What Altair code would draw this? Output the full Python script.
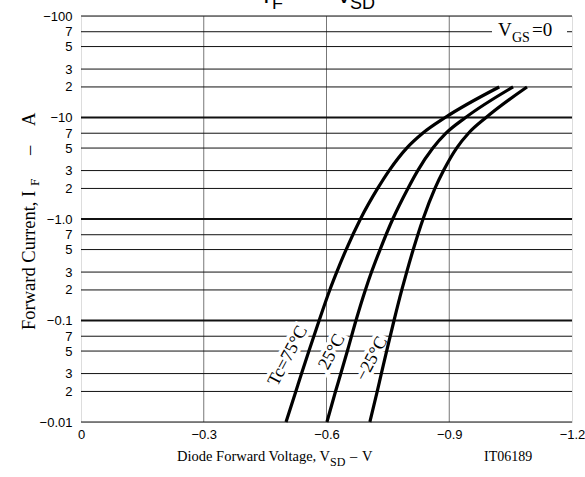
import altair as alt
import pandas as pd

# ---- data ----
current_A = [0.01, 0.02, 0.03, 0.05, 0.1, 0.2, 0.3, 0.5, 1, 2, 3, 5, 7, 10, 20]
v_75 = [0.501, 0.525, 0.539, 0.557, 0.582, 0.608, 0.625, 0.648, 0.683, 0.725,
        0.753, 0.796, 0.835, 0.890, 1.022]
v_25 = [0.601, 0.622, 0.635, 0.651, 0.672, 0.695, 0.710, 0.731, 0.762, 0.799,
        0.823, 0.860, 0.892, 0.940, 1.056]
v_m25 = [0.706, 0.724, 0.734, 0.747, 0.765, 0.784, 0.796, 0.812, 0.836, 0.865,
         0.886, 0.918, 0.947, 0.990, 1.090]

x_ticks = [0, -0.3, -0.6, -0.9, -1.2]
x_grid = [-0.3, -0.6, -0.9]
y_ticks = [0.01, 0.02, 0.03, 0.05, 0.07, 0.1, 0.2, 0.3, 0.5, 0.7, 1,
           2, 3, 5, 7, 10, 20, 30, 50, 70, 100]
y_labels = ["−0.01", "2", "3", "5", "7", "−0.1", "2", "3", "5", "7", "−1.0",
            "2", "3", "5", "7", "−10", "2", "3", "5", "7", "−100"]
decades = [0.1, 1, 10]

rows = []
for name, vs in [("75", v_75), ("25", v_25), ("-25", v_m25)]:
    for i, (c, v) in enumerate(zip(current_A, vs)):
        rows.append({"series": name, "V": -v, "I": c, "k": i})
df = pd.DataFrame(rows)

SERIF = "Liberation Serif"
SANS = "Liberation Sans"
PAD_L, PAD_T = 81, 16

xscale = alt.Scale(domain=[0, -1.2], nice=False, zero=False)
yscale = alt.Scale(type="log", domain=[0.01, 100], nice=False)

lab_expr = ("[" + ",".join("'%s'" % s for s in y_labels) + "][indexof(["
            + ",".join(str(v) for v in y_ticks) + "], datum.value)]")

hgrid = alt.Chart(pd.DataFrame({"I": y_ticks})).mark_rule(
    color="#111", strokeWidth=1).encode(
    y=alt.Y("I:Q", scale=yscale,
            axis=alt.Axis(values=y_ticks, labelExpr=lab_expr, title=None,
                          grid=False, ticks=False, domain=False,
                          labelFont=SANS, labelFontSize=13, labelColor="#000",
                          labelPadding=9, labelOverlap=False, labelFlush=False,
                          labelBaseline="middle")))

dgrid = alt.Chart(pd.DataFrame({"I": decades})).mark_rule(
    color="#111", strokeWidth=2).encode(y=alt.Y("I:Q", scale=yscale))

vgrid = alt.Chart(pd.DataFrame({"V": x_grid})).mark_rule(
    color="#777", strokeWidth=1).encode(
    x=alt.X("V:Q", scale=xscale,
            axis=alt.Axis(values=x_ticks, title=None, grid=False, ticks=False,
                          domain=False, labelFont=SANS, labelFontSize=13,
                          labelColor="#000", labelPadding=6, labelFlush=False,
                          labelOverlap=False,
                          labelExpr="datum.value == 0 ? '0' : format(datum.value, '.1f')")))


def label(text, x, y, size, font=SERIF, angle=0, align="left", baseline="alphabetic", halo=False):
    gx, gy = x - PAD_L, y - PAD_T
    base = dict(text=text, fontSize=size, font=font, align=align,
                baseline=baseline, angle=angle)
    layers = []
    if halo:
        layers.append(alt.Chart().mark_text(color="white", stroke="white",
                                            strokeWidth=7, **base).encode(
            x=alt.value(gx), y=alt.value(gy)))
    layers.append(alt.Chart().mark_text(color="black", **base).encode(
        x=alt.value(gx), y=alt.value(gy)))
    return layers


halo_layers, text_layers = [], []
for t, x, y in [("Tc=75°C", 288, 356), ("25°C", 332, 352), ("−25°C", 372, 359)]:
    h, tx = label(t, x, y, 18, angle=298, align="center", baseline="middle", halo=True)
    halo_layers.append(h)
    text_layers.append(tx)

# white box behind the V_GS=0 note
vgs_box = alt.Chart().mark_rect(color="white").encode(
    x=alt.value(492 - PAD_L), x2=alt.value(567 - PAD_L),
    y=alt.value(24 - PAD_T), y2=alt.value(44 - PAD_T))
for t, x, y, s in [("V", 498, 36, 19), ("GS", 512, 42, 14), ("=0", 532, 36, 19)]:
    text_layers += label(t, x, y, s)

lines = alt.Chart(df).mark_line(color="black", strokeWidth=3.2, interpolate="monotone").encode(
    x=alt.X("V:Q", scale=xscale),
    y=alt.Y("I:Q", scale=yscale),
    detail="series:N",
    order="k:Q",
)

texts = []
texts += label("I", 263, 3, 24, font=SANS)
texts += label("F", 272, 9, 18, font=SANS)
texts += label("V", 336, 3, 24, font=SANS)
texts += label("SD", 350, 9, 18, font=SANS)
# y title (rotated)
texts += label("Forward Current, I", 35, 330, 18.5, angle=270)
texts += label("F", 39, 186, 13.5, angle=270)
texts += label("–", 35, 155, 18.5, angle=270)
texts += label("A", 35, 126, 18.5, angle=270)
# x title
texts += label("Diode Forward Voltage, V", 177, 461, 14.5)
texts += label("SD", 330, 466, 12)
texts += label("–", 350, 461, 14.5)
texts += label("V", 362, 461, 14.5)
texts += label("IT06189", 484, 461, 14)

chart = alt.layer(vgrid, hgrid, dgrid, vgs_box, *halo_layers, *text_layers, lines, *texts).properties(
    width=491, height=406,
    autosize=alt.AutoSizeParams(type="none"),
    padding={"left": PAD_L, "top": PAD_T, "right": 13, "bottom": 55},
).configure_view(stroke="black", strokeWidth=1.5).configure(background="white")

chart.save("out.html", embed_options={"renderer": "svg", "actions": False})
